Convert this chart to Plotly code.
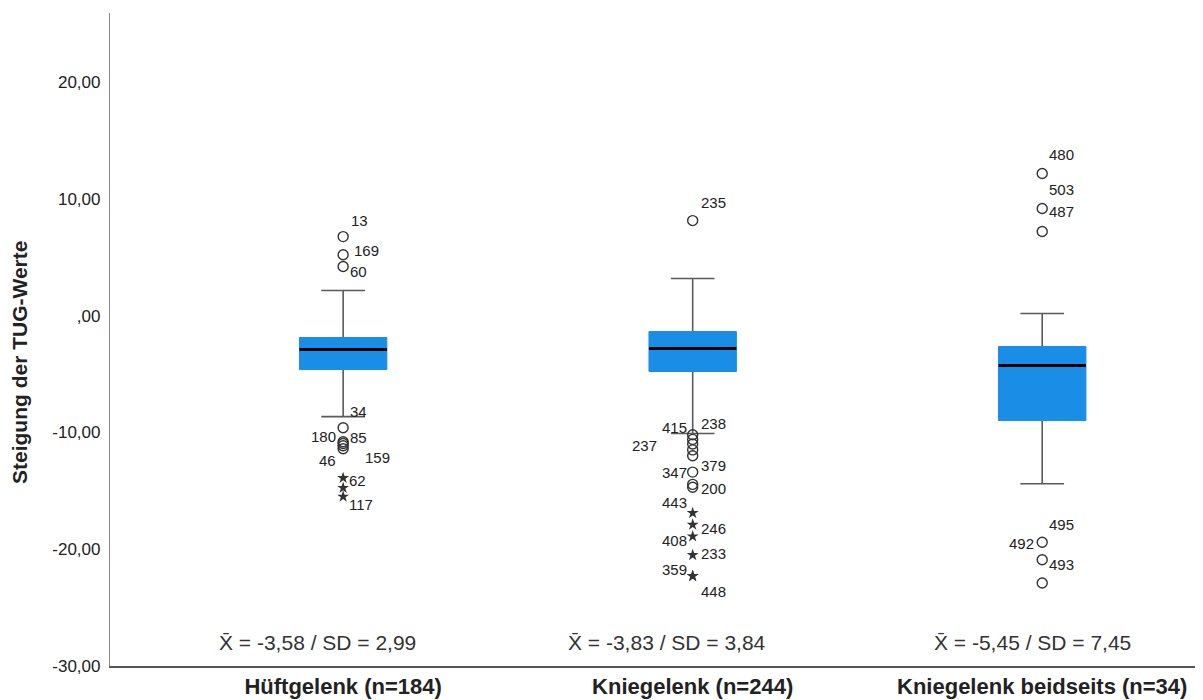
import plotly.graph_objects as go

# ---------------- data ----------------
categories = ["Hüftgelenk (n=184)", "Kniegelenk (n=244)", "Kniegelenk beidseits (n=34)"]
q1_vals = [-4.62, -4.79, -8.99]
median_vals = [-2.90, -2.83, -4.28]
q3_vals = [-1.88, -1.37, -2.65]
lower_whisker = [-8.65, -10.10, -14.40]
upper_whisker = [2.14, 3.17, 0.17]

mean_vals = ["-3,58", "-3,83", "-5,45"]
sd_vals = ["2,99", "3,84", "7,45"]

# outliers (circles) : group index, value, case label
circle_group = [0, 0, 0, 0, 0, 0, 0, 0,
                1, 1, 1, 1, 1, 1, 1, 1, 1,
                2, 2, 2, 2, 2, 2]
circle_value = [6.76, 5.20, 4.20, -9.60, -10.80, -10.95, -11.40, -11.15,
                8.13, -10.20, -10.60, -11.00, -12.00, -11.50, -13.40, -14.70, -14.45,
                12.16, 9.16, 7.19, -19.40, -20.90, -22.90]
circle_label = ["13", "169", "60", "34", "180", "85", "46", "159",
                "235", "415", "238", "237", "379", "", "347", "200", "",
                "480", "503", "487", "495", "492", "493"]

# extreme values (stars)
star_group = [0, 0, 0,
              1, 1, 1, 1, 1, 1]
star_value = [-13.90, -14.75, -15.50,
              -16.90, -17.90, -18.90, -20.50, -22.30, -22.30]
star_label = ["62", "", "117",
              "443", "246", "408", "233", "359", "448"]

y_tickvals = [-30, -20, -10, 0, 10, 20]
y_ticktext = ["-30,00", "-20,00", "-10,00", ",00", "10,00", "20,00"]

# ---------------- styles ----------------
# label offsets (px): (xshift, yshift, xanchor)
label_style = {
    "13": (6, 16, "left"), "169": (9, 4, "left"), "60": (5, -5, "left"),
    "34": (5, 16, "left"), "180": (-5, 5, "right"), "85": (5, 6, "left"),
    "46": (-5, -12, "right"), "159": (20, -12, "left"),
    "62": (4, -3, "left"), "117": (4, -8, "left"),
    "235": (6, 18, "left"), "415": (-4, 7, "right"), "238": (6, 16, "left"),
    "237": (-34, -1, "right"), "379": (6, -10, "left"), "347": (-4, 0, "right"),
    "200": (6, -1, "left"), "443": (-4, 10, "right"), "246": (6, -4, "left"),
    "408": (-4, -4, "right"), "233": (6, 2, "left"), "359": (-4, 7, "right"),
    "448": (6, -15, "left"),
    "480": (5, 19, "left"), "503": (5, 19, "left"), "487": (5, 20, "left"),
    "495": (5, 18, "left"), "492": (-6, 16, "right"), "493": (5, 19, "left"),
}
mean_text_shift = [-26, -26, -10]

BOX_COLOR = "#1a8de6"
WHISKER_COLOR = "#5a5a5a"
TEXT_COLOR = "#222222"
FONT = "Liberation Sans, Arial, sans-serif"
BOX_WIDTH = 0.25

# page body has an 8px margin: compensate so the plot lands where the reference has it
W, H = 1195, 692
ML, MR, MT, MB = 102, 0, 5, 34
pw, ph = W - ML - MR, H - MT - MB

xs = list(range(len(categories)))

fig = go.Figure()

# whiskers (gray), box collapsed to the median
fig.add_trace(go.Box(
    x=xs, q1=median_vals, median=median_vals, q3=median_vals,
    lowerfence=lower_whisker, upperfence=upper_whisker,
    width=BOX_WIDTH, whiskerwidth=0.5,
    line=dict(color=WHISKER_COLOR, width=1.6),
    fillcolor="rgba(0,0,0,0)", boxpoints=False, showlegend=False, hoverinfo="skip",
))

# box body (blue)
fig.add_trace(go.Box(
    x=xs, q1=q1_vals, median=median_vals, q3=q3_vals,
    lowerfence=q1_vals, upperfence=q3_vals,
    width=BOX_WIDTH, whiskerwidth=0,
    line=dict(color=BOX_COLOR, width=1),
    fillcolor=BOX_COLOR, boxpoints=False, showlegend=False,
))

# median lines (black)
for xi, m in zip(xs, median_vals):
    fig.add_trace(go.Scatter(
        x=[xi - BOX_WIDTH / 2, xi + BOX_WIDTH / 2], y=[m, m], mode="lines",
        line=dict(color="black", width=3), showlegend=False, hoverinfo="skip",
    ))

# outliers
fig.add_trace(go.Scatter(
    x=circle_group, y=circle_value, mode="markers",
    marker=dict(symbol="circle-open", size=10, color="#333333", line=dict(width=1.4)),
    showlegend=False,
))
fig.add_trace(go.Scatter(
    x=star_group, y=star_value, mode="markers",
    marker=dict(symbol="star", size=9, color="#333333", line=dict(width=0)),
    showlegend=False,
))

# outlier labels
annotations = []
for g, v, lab in list(zip(circle_group, circle_value, circle_label)) + list(zip(star_group, star_value, star_label)):
    if not lab:
        continue
    dx, dy, anc = label_style[lab]
    annotations.append(dict(
        x=g, y=v, xref="x", yref="y", text=lab, showarrow=False,
        xanchor=anc, yanchor="middle", xshift=dx, yshift=dy,
        font=dict(family=FONT, size=15, color=TEXT_COLOR),
    ))

# mean / SD text
for xi, m, s, sh in zip(xs, mean_vals, sd_vals, mean_text_shift):
    annotations.append(dict(
        x=xi, y=-28.0, xref="x", yref="y", showarrow=False, xshift=sh,
        text=f"X\u0304 = {m} / SD = {s}", xanchor="center", yanchor="middle",
        font=dict(family=FONT, size=21, color="#333333"),
    ))

# y-axis title (reference pixel position 19, 363 -> figure coords minus body margin)
annotations.append(dict(
    x=(19 - 8 - ML) / pw, y=(H - MB - (363 - 8)) / ph, xref="paper", yref="paper",
    text="<b>Steigung der TUG-Werte</b>", xanchor="center", yanchor="middle",
    showarrow=False, textangle=-90, font=dict(family=FONT, size=21, color=TEXT_COLOR),
))

fig.update_layout(
    width=W, height=H,
    margin=dict(l=ML, r=MR, t=MT, b=MB, pad=0),
    plot_bgcolor="white", paper_bgcolor="white",
    boxmode="overlay",
    annotations=annotations,
    xaxis=dict(
        range=[-0.667, 2.46], tickvals=xs,
        ticktext=[f"<b>{c}</b>" for c in categories],
        showline=True, linecolor="#555555", linewidth=1.5,
        showgrid=False, zeroline=False, ticks="",
        tickfont=dict(family=FONT, size=22, color=TEXT_COLOR),
        ticklabelstandoff=0,
    ),
    yaxis=dict(
        range=[-30, 25.9], tickvals=y_tickvals, ticktext=y_ticktext,
        showline=True, linecolor="#888888", linewidth=1.2,
        showgrid=False, zeroline=False, ticks="",
        tickfont=dict(family=FONT, size=17, color=TEXT_COLOR),
        ticklabelstandoff=5,
    ),
)

fig.write_html("out.html")
